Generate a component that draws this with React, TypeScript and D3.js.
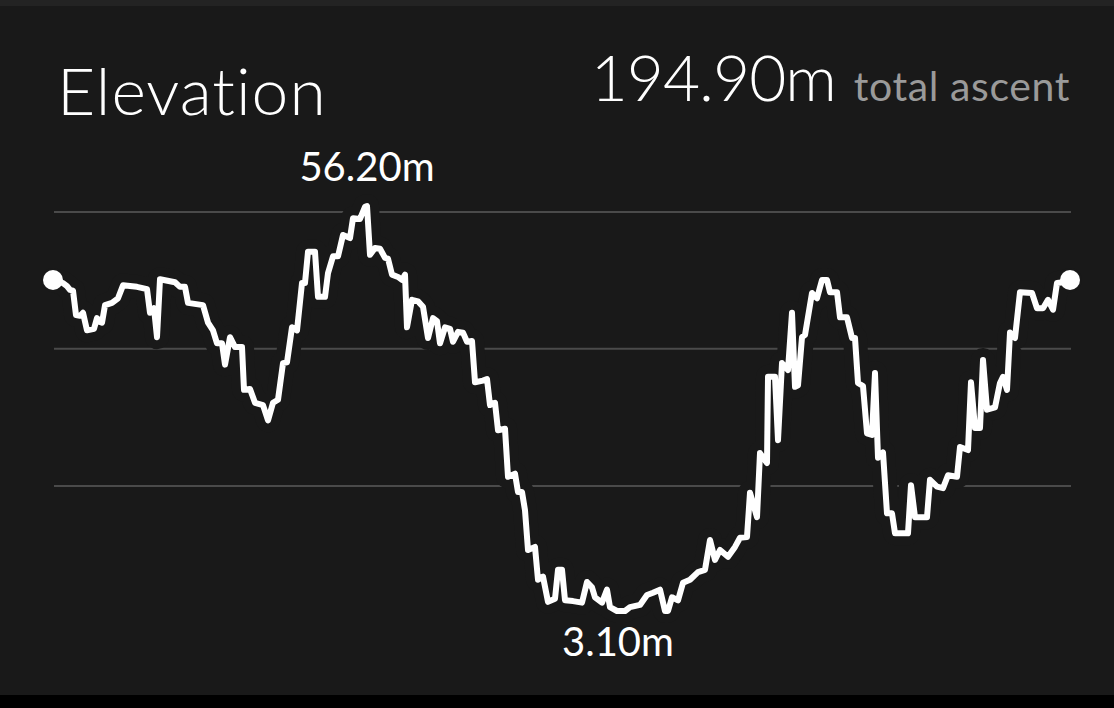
import React from "react";
import * as d3 from "d3";

// distance along route (x 10 m)
const distance = [
  0, 10, 14, 17, 20, 23, 27, 30, 34, 41,
  44, 47, 49, 52, 59, 65, 70, 84, 94, 97,
  101, 104, 107, 122, 127, 132, 135, 150, 155, 160,
  164, 169, 172, 177, 182, 189, 191, 197, 202, 210,
  215, 220, 225, 230, 234, 239, 244, 249, 252, 255,
  262, 265, 272, 275, 280, 285, 290, 297, 300, 307,
  312, 314, 317, 322, 327, 332, 335, 339, 345, 349,
  352, 354, 359, 365, 370, 375, 380, 384, 387, 392,
  397, 400, 405, 410, 414, 419, 422, 430, 434, 437,
  442, 445, 452, 455, 462, 465, 469, 472, 475, 482,
  485, 490, 495, 502, 505, 509, 512, 520, 529, 534,
  539, 542, 549, 554, 557, 564, 572, 577, 587, 594,
  600, 607, 612, 615, 619, 625, 630, 637, 645, 652,
  657, 662, 667, 675, 682, 687, 694, 697, 704, 707,
  714, 715, 722, 725, 729, 735, 739, 742, 745, 749,
  752, 759, 764, 769, 774, 777, 784, 787, 794, 799,
  802, 805, 810, 814, 819, 822, 825, 830, 834, 839,
  842, 855, 858, 862, 874, 877, 884, 890, 895, 904,
  907, 915, 918, 922, 927, 930, 934, 942, 947, 950,
  954, 957, 962, 967, 979, 984, 990, 995, 1000, 1004,
  1010, 1017,
];

// elevation in metres
const elevation = [
  46.5, 46.1, 45.7, 45.2, 45.1, 41.9, 41.8, 42.2, 39.9, 40.1,
  41.5, 41.0, 40.9, 43.2, 43.5, 44.1, 45.8, 45.6, 45.3, 42.2,
  42.8, 39.0, 46.6, 46.2, 45.6, 45.6, 43.5, 43.2, 40.9, 39.9,
  38.2, 38.2, 35.4, 39.0, 37.7, 37.7, 32.1, 32.2, 30.4, 30.1,
  28.1, 30.4, 30.8, 35.6, 35.7, 40.3, 39.9, 46.1, 46.1, 50.2,
  50.2, 44.3, 44.3, 47.4, 49.6, 49.6, 52.4, 52.0, 54.6, 54.5,
  56.1, 56.2, 49.8, 50.7, 50.6, 49.4, 49.3, 47.2, 46.9, 46.5,
  47.2, 40.3, 43.9, 43.7, 43.0, 38.9, 41.5, 41.1, 38.2, 40.3,
  40.1, 38.4, 39.7, 39.6, 38.4, 38.5, 33.1, 33.3, 33.5, 30.1,
  30.4, 26.8, 27.0, 20.7, 21.1, 18.7, 18.7, 16.3, 11.1, 11.5,
  7.2, 7.6, 4.3, 4.7, 8.5, 8.5, 4.5, 4.4, 4.2, 6.9,
  6.2, 4.9, 4.2, 5.9, 3.6, 3.1, 3.1, 3.6, 3.9, 5.2,
  5.5, 5.9, 3.1, 3.1, 4.9, 4.5, 6.8, 7.2, 8.2, 8.5,
  12.4, 9.8, 11.1, 10.2, 11.5, 12.7, 12.8, 18.6, 15.4, 23.8,
  22.5, 33.8, 33.8, 25.5, 35.6, 34.7, 42.2, 32.5, 32.7, 39.0,
  39.3, 44.8, 44.1, 46.5, 46.5, 44.9, 44.9, 41.6, 41.6, 38.9,
  38.9, 33.0, 32.6, 26.4, 26.2, 34.3, 23.2, 23.9, 15.9, 15.9,
  13.3, 13.3, 19.6, 15.4, 15.4, 20.3, 19.4, 19.2, 20.9, 20.7,
  24.6, 24.2, 33.1, 27.1, 27.1, 36.0, 29.5, 29.8, 33.0, 33.8,
  32.1, 39.6, 38.9, 44.9, 44.8, 42.8, 42.8, 43.9, 42.6, 46.1,
  46.2, 46.5,
];

const gridValues = [19.5, 37.5, 55.4];
const titleText = "Elevation";
const totalAscent = "194.90m";
const ascentLabel = "total ascent";

const W = 1114;
const H = 708;
const BG = "#191919";
const FONT = "Lato, 'Open Sans', sans-serif";

export default function App() {
  const pts = distance.map((d, i) => ({ d, e: elevation[i] }));
  const x = d3.scaleLinear().domain([0, d3.max(distance) as number]).range([53, 1070]);
  const minE = d3.min(elevation) as number;
  const maxE = d3.max(elevation) as number;
  const y = d3.scaleLinear().domain([minE, maxE]).range([611, 206]);
  const line = d3
    .line<{ d: number; e: number }>()
    .x((p) => x(p.d))
    .y((p) => y(p.e))
    .curve(d3.curveLinear);
  const path = line(pts) || "";
  const maxIdx = d3.maxIndex(elevation);
  const minIdx = d3.minIndex(elevation);
  const minIdxs = elevation.map((e, i) => (e === minE ? i : -1)).filter((i) => i >= 0);
  const minX = x(distance[minIdxs[0]]) + (x(distance[minIdxs[1] ?? minIdxs[0]]) - x(distance[minIdxs[0]])) / 2 - 3;
  const first = pts[0];
  const last = pts[pts.length - 1];
  const noLig = { fontVariantLigatures: "none" as const, fontFeatureSettings: "'liga' 0" };

  return (
    <svg
      width={W}
      height={H}
      style={{ position: "fixed", left: 0, top: 0, display: "block" }}
      fontFamily={FONT}
    >
      <rect x={0} y={0} width={W} height={H} fill={BG} />
      <rect x={0} y={0} width={W} height={6} fill="#232323" />
      <rect x={0} y={695} width={W} height={H - 695} fill="#000" />

      <text x={57} y={115} fill="#fff" fontSize={66} fontWeight={300} letterSpacing={1} style={noLig}>
        {titleText}
      </text>
      <text x={1070} y={101} textAnchor="end" style={noLig}>
        <tspan fill="#fff" fontSize={64} fontWeight={300} letterSpacing={-1}>{totalAscent}</tspan>
        <tspan fill="#9a9a9a" fontSize={41} fontWeight={400} letterSpacing={0.6} dx={18}>{ascentLabel}</tspan>
      </text>

      {gridValues.map((g) => (
        <line key={g} x1={54} x2={1071} y1={y(g)} y2={y(g)} stroke="#4a4a4a" strokeWidth={2} />
      ))}

      <path d={path} fill="none" stroke={BG} strokeWidth={24} strokeLinejoin="round" strokeLinecap="round" />
      <path d={path} fill="none" stroke="#fff" strokeWidth={6} strokeLinejoin="round" strokeLinecap="round" />
      <circle cx={x(first.d)} cy={y(first.e)} r={10} fill="#fff" />
      <circle cx={x(last.d)} cy={y(last.e)} r={10} fill="#fff" />

      <text x={x(distance[maxIdx])} y={y(elevation[maxIdx]) - 25} textAnchor="middle" fill="#fff" fontSize={40}>
        {elevation[maxIdx].toFixed(2)}m
      </text>
      <text x={minX} y={y(elevation[minIdx]) + 45} textAnchor="middle" fill="#fff" fontSize={40}>
        {elevation[minIdx].toFixed(2)}m
      </text>
    </svg>
  );
}
